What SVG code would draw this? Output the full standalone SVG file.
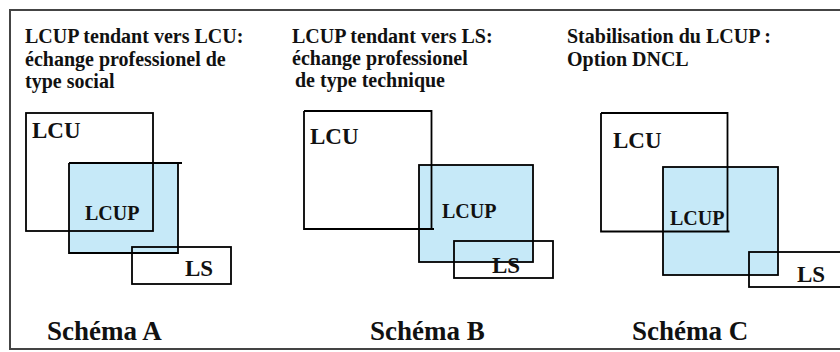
<svg xmlns="http://www.w3.org/2000/svg" width="840" height="352" viewBox="0 0 840 352">
<style>
.t{font-family:'Liberation Serif',serif;font-weight:bold;fill:#111}
.ti{font-size:20px}
.lb{font-size:23px}
.lp{font-size:20px}
.sc{font-size:27px}
.box{fill:none;stroke:#000;stroke-width:1.8}
.up{fill:#c6e9f8;stroke:none}
</style>
<rect x="10" y="10" width="845" height="339" fill="#fff" stroke="#444" stroke-width="2"/>
<g id="schemaA">
  <g id="titleA">
    <text class="t ti" x="25" y="43">LCUP tendant vers LCU:</text>
    <text class="t ti" x="25" y="66">échange professionel de</text>
    <text class="t ti" x="25" y="88">type social</text>
  </g>
  <g id="A-LCUP">
    <rect class="up" x="69" y="163" width="109" height="90"/>
    <path class="box" d="M69,163 H182 M178,163 V253 H69 V163"/>
    <text class="t lp" x="85" y="220">LCUP</text>
  </g>
  <g id="A-LCU">
    <rect class="box" x="26" y="113" width="127" height="118"/>
    <text class="t lb" x="32" y="138">LCU</text>
  </g>
  <g id="A-LS">
    <rect class="box" x="132" y="247" width="99" height="37"/>
    <text class="t lb" x="185" y="276">LS</text>
  </g>
  <text class="t sc" x="47" y="340">Schéma A</text>
</g>
<g id="schemaB">
  <g id="titleB">
    <text class="t ti" x="292" y="43">LCUP tendant vers LS:</text>
    <text class="t ti" x="292" y="65">échange professionel</text>
    <text class="t ti" x="295" y="87">de type technique</text>
  </g>
  <g id="B-LCUP">
    <rect class="up" x="419" y="165" width="114" height="97"/>
    <rect class="box" x="419" y="165" width="114" height="97"/>
    <text class="t lp" x="442" y="218">LCUP</text>
  </g>
  <g id="B-LCU">
    <path class="box" d="M304,111 H431.5 V229 M434,229 H304 V111"/>
    <text class="t lb" x="310" y="144">LCU</text>
  </g>
  <g id="B-LS">
    <rect class="box" x="454" y="241" width="99" height="37"/>
    <text class="t lb" x="492" y="273">LS</text>
  </g>
  <text class="t sc" x="370" y="340">Schéma B</text>
</g>
<g id="schemaC">
  <g id="titleC">
    <text class="t ti" x="567" y="43">Stabilisation du LCUP :</text>
    <text class="t ti" x="567" y="66">Option DNCL</text>
  </g>
  <g id="C-LCUP">
    <rect class="up" x="663" y="167" width="115" height="108"/>
    <rect class="box" x="663" y="167" width="115" height="108"/>
    <text class="t lp" x="670" y="225">LCUP</text>
  </g>
  <g id="C-LCU">
    <path class="box" d="M601,113 H727.5 V231.5 M729.5,231.5 H601 V113"/>
    <text class="t lb" x="613" y="148">LCU</text>
  </g>
  <g id="C-LS">
    <rect class="box" x="749" y="252" width="110" height="35"/>
    <text class="t lb" x="797" y="282">LS</text>
  </g>
  <text class="t sc" x="632" y="340">Schéma C</text>
</g>
<g id="connectors"></g>
</svg>
